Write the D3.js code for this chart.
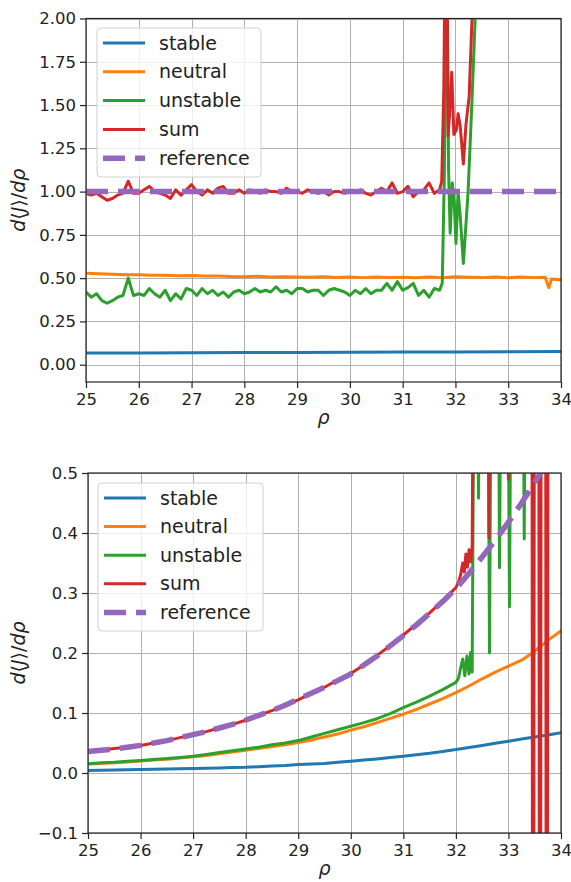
<!DOCTYPE html>
<html>
<head>
<meta charset="utf-8">
<script src="https://cdn.jsdelivr.net/npm/d3@7"></script>
<style>
  body { margin: 0; background: #fff; }
  svg { display: block; font-family: "DejaVu Sans", sans-serif; }
</style>
</head>
<body>
<svg id="fig" width="571" height="882"></svg>
<script>
// ---------- shared axis data ----------
const rhoTicks = [25, 26, 27, 28, 29, 30, 31, 32, 33, 34];
const topYTicks = [0.00, 0.25, 0.50, 0.75, 1.00, 1.25, 1.50, 1.75, 2.00];
const bottomYTicks = [-0.1, 0.0, 0.1, 0.2, 0.3, 0.4, 0.5];
const seriesNames = ["stable", "neutral", "unstable", "sum", "reference"];
const seriesColors = ["#1f77b4", "#ff7f0e", "#2ca02c", "#d62728", "#9467bd"];

// ---------- upper panel ----------
// stable, sampled every 1.0 from rho = 25
const stableTop = [0.067, 0.068, 0.069, 0.070, 0.071, 0.072, 0.073, 0.074, 0.075, 0.076];
// neutral, sampled every 0.25 from rho = 25 up to 33.5
const neutralTop = [0.528, 0.525, 0.522, 0.520, 0.520, 0.517, 0.516, 0.514, 0.515, 0.512,
  0.513, 0.509, 0.508, 0.511, 0.506, 0.508, 0.507, 0.505, 0.508, 0.504,
  0.506, 0.503, 0.507, 0.504, 0.505, 0.502, 0.506, 0.503, 0.508, 0.505,
  0.503, 0.506, 0.502, 0.507, 0.503];
const neutralTopTail = [[33.70, 0.505], [33.77, 0.445], [33.82, 0.495], [34.00, 0.490]];
// unstable, sampled every 0.1 from rho = 25 up to 31.7
const unstableTop = [0.42, 0.39, 0.41, 0.37, 0.355, 0.37, 0.39, 0.40, 0.50, 0.40,
  0.41, 0.40, 0.44, 0.41, 0.39, 0.43, 0.37, 0.41, 0.38, 0.44,
  0.43, 0.40, 0.44, 0.41, 0.43, 0.40, 0.42, 0.39, 0.42, 0.43,
  0.41, 0.42, 0.44, 0.42, 0.43, 0.42, 0.45, 0.42, 0.43, 0.41,
  0.44, 0.44, 0.42, 0.43, 0.43, 0.40, 0.43, 0.44, 0.43, 0.42,
  0.40, 0.43, 0.41, 0.44, 0.41, 0.43, 0.43, 0.47, 0.43, 0.48,
  0.43, 0.445, 0.47, 0.40, 0.43, 0.39, 0.44, 0.43];
const unstableTopTail = [[31.75, 0.47], [31.79, 1.10], [31.83, 2.60], [31.87, 1.12], [31.90, 0.76],
  [31.94, 1.05], [31.98, 0.92], [32.01, 0.70], [32.05, 1.00], [32.09, 0.86], [32.15, 0.585],
  [32.24, 1.00], [32.31, 1.50], [32.38, 2.05], [32.45, 2.60], [34.00, 2.60]];
// sum, sampled every 0.1 from rho = 25 up to 31.7
const sumTop = [0.99, 0.98, 0.99, 0.97, 0.95, 0.96, 0.98, 0.99, 1.06, 0.99,
  0.99, 1.01, 1.03, 1.00, 0.99, 0.98, 0.96, 1.01, 0.98, 1.01,
  1.04, 1.00, 0.98, 1.01, 0.99, 1.02, 1.03, 0.99, 0.99, 1.01,
  0.99, 1.01, 1.00, 0.99, 1.01, 1.00, 1.00, 0.99, 1.02, 1.00,
  1.00, 0.99, 1.01, 1.00, 0.99, 1.00, 0.98, 1.00, 1.00, 0.99,
  1.00, 1.00, 1.01, 0.99, 0.98, 1.00, 1.02, 1.00, 1.05, 0.99,
  1.00, 1.03, 0.97, 1.00, 1.01, 1.05, 0.99, 1.01];
const sumTopTail = [[31.74, 1.06], [31.78, 1.60], [31.81, 2.60], [31.84, 2.40], [31.86, 1.32],
  [31.89, 1.45], [31.93, 1.69], [31.97, 1.33], [32.02, 1.36], [32.05, 1.45], [32.09, 1.38],
  [32.15, 1.16], [32.20, 1.39], [32.26, 1.55], [32.32, 2.05], [32.38, 2.60], [34.00, 2.60]];
// reference, at rho = 25 and 34
const referenceTop = [1.0, 1.0];

// ---------- lower panel ----------
// stable, neutral, reference sampled every 0.25 from rho = 25 to 34
const stableBottom = [0.0040, 0.0045, 0.0050, 0.0055, 0.0060, 0.0063, 0.0067, 0.0070, 0.0075, 0.0080,
  0.0085, 0.0090, 0.0095, 0.0105, 0.0115, 0.0125, 0.0140, 0.0150, 0.0160, 0.0178,
  0.0195, 0.0215, 0.0235, 0.0257, 0.0280, 0.0305, 0.0330, 0.0360, 0.0390, 0.0425,
  0.0460, 0.0495, 0.0530, 0.0565, 0.0600, 0.0635, 0.0670];
const neutralBottom = [0.0150, 0.0160, 0.0170, 0.0185, 0.0200, 0.0215, 0.0230, 0.0250, 0.0270, 0.0290,
  0.0320, 0.0350, 0.0380, 0.0410, 0.0440, 0.0470, 0.0510, 0.0550, 0.0600, 0.0650,
  0.0715, 0.0770, 0.0840, 0.0910, 0.0980, 0.1060, 0.1150, 0.1240, 0.1340, 0.1450,
  0.1570, 0.1680, 0.1780, 0.1880, 0.2030, 0.2210, 0.2370];
const referenceBottom = [0.036, 0.038, 0.040, 0.043, 0.046, 0.050, 0.054, 0.059, 0.064, 0.069,
  0.075, 0.081, 0.088, 0.096, 0.104, 0.113, 0.123, 0.133, 0.143, 0.154,
  0.165, 0.180, 0.195, 0.212, 0.229, 0.247, 0.266, 0.286, 0.307, 0.333,
  0.360, 0.388, 0.418, 0.450, 0.484, 0.520, 0.560];
// unstable and sum sampled every 0.25 from rho = 25 to 32, then irregular points
const unstableBottom = [0.0155, 0.0170, 0.0180, 0.0195, 0.0210, 0.0225, 0.0240, 0.0260, 0.0280, 0.0310,
  0.0340, 0.0370, 0.0400, 0.0430, 0.0470, 0.0500, 0.0540, 0.0600, 0.0660, 0.0720,
  0.0780, 0.0840, 0.0905, 0.0990, 0.1090, 0.1180, 0.1280, 0.1390, 0.1510];
const unstableBottomTail = [[32.05, 0.158], [32.09, 0.175], [32.13, 0.190], [32.17, 0.162],
  [32.21, 0.195], [32.25, 0.165], [32.28, 0.201], [32.31, 0.168], [32.35, 0.80], [32.40, 0.90],
  [32.43, 0.458], [32.46, 0.90], [32.60, 0.90], [32.64, 0.200], [32.68, 0.90], [32.80, 0.90],
  [32.83, 0.342], [32.87, 0.90], [32.98, 0.90], [33.02, 0.277], [33.06, 0.90], [33.27, 0.90],
  [33.30, 0.390], [33.33, 0.90], [34.00, 0.90]];
const sumBottom = [0.035, 0.038, 0.041, 0.043, 0.046, 0.050, 0.054, 0.059, 0.064, 0.069,
  0.075, 0.081, 0.088, 0.096, 0.104, 0.113, 0.122, 0.133, 0.143, 0.155,
  0.166, 0.180, 0.196, 0.212, 0.230, 0.248, 0.267, 0.287, 0.309];
const sumBottomTail = [[32.05, 0.318], [32.09, 0.330], [32.13, 0.350], [32.16, 0.335],
  [32.19, 0.365], [32.22, 0.343], [32.25, 0.372], [32.28, 0.352], [32.31, 0.378], [32.35, 0.95],
  [32.40, 1.20], [32.60, 1.20], [32.63, 0.392], [32.66, 1.20], [32.97, 0.80], [33.00, 0.490],
  [33.03, 0.80], [33.44, 1.50], [33.47, -1.50], [33.50, 1.50], [33.57, 1.50], [33.60, -1.50],
  [33.63, 1.50], [33.70, 1.50], [33.73, -1.50], [33.76, 1.50], [34.00, 1.20]];

// ---------- helpers ----------
function onGrid(start, step, values) {
  return values.map((v, i) => [start + i * step, v]);
}

const svg = d3.select("#fig");
const TICK_FONT = 16.5;
const LABEL_FONT = 19;
const LEGEND_FONT = 19;

function drawPanel(cfg, idx) {
  const x = d3.scaleLinear().domain([25, 34]).range([cfg.left, cfg.right]);
  const y = d3.scaleLinear().domain(cfg.yDomain).range([cfg.bottom, cfg.top]);
  const g = svg.append("g");

  // grid
  const grid = g.append("g").attr("stroke", "#b0b0b0").attr("stroke-width", 1);
  rhoTicks.forEach(t => grid.append("line")
    .attr("x1", Math.round(x(t)) + 0.5).attr("x2", Math.round(x(t)) + 0.5)
    .attr("y1", cfg.top).attr("y2", cfg.bottom));
  cfg.yTicks.forEach(t => grid.append("line")
    .attr("x1", cfg.left).attr("x2", cfg.right)
    .attr("y1", Math.round(y(t)) + 0.5).attr("y2", Math.round(y(t)) + 0.5));

  // series
  const clipId = "clip" + idx;
  g.append("clipPath").attr("id", clipId).append("rect")
    .attr("x", cfg.left).attr("y", cfg.top)
    .attr("width", cfg.right - cfg.left).attr("height", cfg.bottom - cfg.top);
  const line = d3.line().x(d => x(d[0])).y(d => y(d[1]));
  const lines = g.append("g").attr("clip-path", `url(#${clipId})`);
  cfg.series.forEach((pts, i) => {
    const p = lines.append("path").attr("d", line(pts))
      .attr("fill", "none").attr("stroke", seriesColors[i])
      .attr("stroke-linejoin", "round");
    if (i === 4) {
      p.attr("stroke-width", 5.5).attr("stroke-dasharray", "22,10");
    } else {
      p.attr("stroke-width", 3).attr("stroke-linecap", "square");
    }
  });

  // axes
  const xAxis = d3.axisBottom(x).tickValues(rhoTicks).tickFormat(d3.format("d"))
    .tickSize(6).tickSizeOuter(0).tickPadding(5);
  const yAxis = d3.axisLeft(y).tickValues(cfg.yTicks).tickFormat(d3.format(cfg.yFmt))
    .tickSize(6).tickSizeOuter(0).tickPadding(4);
  const ax = g.append("g").attr("transform", `translate(0,${cfg.bottom})`).call(xAxis);
  const ay = g.append("g").attr("transform", `translate(${cfg.left},0)`).call(yAxis);
  [ax, ay].forEach(a => {
    a.select(".domain").remove();
    a.selectAll("line").attr("stroke", "#222").attr("stroke-width", 1.2);
    a.selectAll("text").attr("font-size", TICK_FONT).attr("fill", "#222")
      .attr("font-family", "DejaVu Sans, sans-serif");
  });

  // frame
  g.append("rect").attr("x", cfg.left).attr("y", cfg.top)
    .attr("width", cfg.right - cfg.left).attr("height", cfg.bottom - cfg.top)
    .attr("fill", "none").attr("stroke", "#222").attr("stroke-width", 1.2);

  // axis labels
  g.append("text").attr("x", (cfg.left + cfg.right) / 2).attr("y", cfg.bottom + 42)
    .attr("text-anchor", "middle").attr("font-size", LABEL_FONT).attr("font-style", "italic")
    .attr("fill", "#222").text("ρ");
  const yl = g.append("text")
    .attr("transform", `translate(25,${(cfg.top + cfg.bottom) / 2}) rotate(-90)`)
    .attr("text-anchor", "middle").attr("font-size", LABEL_FONT).attr("fill", "#222");
  [["d", true], ["⟨", false], ["J", true], ["⟩", false], ["/", false], ["dρ", true]]
    .forEach(([s, it]) => yl.append("tspan").attr("font-style", it ? "italic" : "normal").text(s));

  // legend
  const L = cfg.legend;
  const lg = g.append("g");
  lg.append("rect").attr("x", L.x).attr("y", L.y).attr("width", L.w).attr("height", L.h)
    .attr("rx", 4).attr("fill", "#fff").attr("fill-opacity", 0.8)
    .attr("stroke", "#d0d0d0").attr("stroke-width", 1);
  seriesNames.forEach((name, i) => {
    const cy = L.y + L.first + i * L.step;
    const ln = lg.append("line").attr("x1", L.x + 6).attr("x2", L.x + 48)
      .attr("y1", cy).attr("y2", cy).attr("stroke", seriesColors[i]);
    if (i === 4) ln.attr("stroke-width", 5.5).attr("stroke-dasharray", "22,10");
    else ln.attr("stroke-width", 3);
    lg.append("text").attr("x", L.x + 62).attr("y", cy).attr("dy", "0.35em")
      .attr("font-size", LEGEND_FONT).attr("fill", "#222").text(name);
  });
}

drawPanel({
  left: 86, right: 561, top: 18.5, bottom: 382,
  yDomain: [-0.1, 2.0], yTicks: topYTicks, yFmt: ".2f",
  series: [
    onGrid(25, 1, stableTop),
    onGrid(25, 0.25, neutralTop).concat(neutralTopTail),
    onGrid(25, 0.1, unstableTop).concat(unstableTopTail),
    onGrid(25, 0.1, sumTop).concat(sumTopTail),
    onGrid(25, 9, referenceTop)
  ],
  legend: { x: 97, y: 28, w: 164, h: 149, first: 15, step: 28.8 }
}, 0);

drawPanel({
  left: 88, right: 561, top: 473, bottom: 833,
  yDomain: [-0.1, 0.5], yTicks: bottomYTicks, yFmt: ".1f",
  series: [
    onGrid(25, 0.25, stableBottom),
    onGrid(25, 0.25, neutralBottom),
    onGrid(25, 0.25, unstableBottom).concat(unstableBottomTail),
    onGrid(25, 0.25, sumBottom).concat(sumBottomTail),
    onGrid(25, 0.25, referenceBottom)
  ],
  legend: { x: 98, y: 483, w: 165, h: 148, first: 15, step: 28.6 }
}, 1);
</script>
</body>
</html>
